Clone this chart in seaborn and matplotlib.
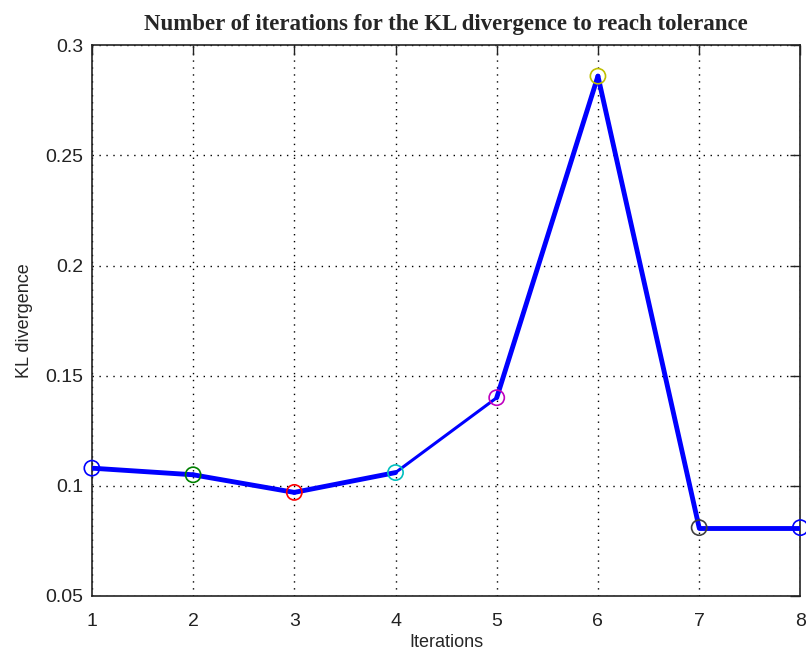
import matplotlib
matplotlib.use("Agg")
import matplotlib.pyplot as plt
import seaborn as sns
import pandas as pd
import numpy as np

iterations = [1, 2, 3, 4, 5, 6, 7, 8]
kl_divergence = [0.108, 0.105, 0.097, 0.106, 0.140, 0.286, 0.081, 0.081]
marker_colors = ["#0000ff", "#008000", "#ff0000", "#00bfbf", "#bf00bf", "#bfbf00", "#404040", "#0000ff"]
segment_widths = [3.5, 3.5, 3.5, 2.2, 3.5, 3.5, 3.5]

sns.set_style("white")
plt.rcParams["font.family"] = ["Liberation Sans Narrow", "Liberation Sans", "DejaVu Sans"]

df = pd.DataFrame({"Iterations": iterations, "KL divergence": kl_divergence})

fig = plt.figure(figsize=(8.06, 6.57), dpi=100)
ax = fig.add_axes([0.114, 0.093, 0.879, 0.838])

# line segments, each drawn between consecutive points
for i, w in enumerate(segment_widths):
    sns.lineplot(data=df.iloc[i:i + 2], x="Iterations", y="KL divergence",
                 color="#0000ff", linewidth=w, ax=ax, solid_capstyle="round",
                 zorder=3)

# hollow circle markers at each point
for i in range(len(iterations)):
    sns.scatterplot(x=[iterations[i]], y=[kl_divergence[i]], ax=ax,
                    marker="o", s=120, facecolors="none",
                    edgecolors=marker_colors[i], linewidths=1.2, zorder=4,
                    clip_on=False)

ax.set_xlim(1, 8)
ax.set_ylim(0.05, 0.3)
ax.set_xticks(iterations)
ax.set_xticklabels([str(v) for v in iterations])
yticks = [0.05, 0.1, 0.15, 0.2, 0.25, 0.3]
ax.set_yticks(yticks)
ax.set_yticklabels(["0.05", "0.1", "0.15", "0.2", "0.25", "0.3"])

ax.grid(True, color="black", linestyle=(0, (1, 4)), linewidth=1.0)
ax.tick_params(direction="in", length=7, width=1, top=True, right=True,
               labelsize=14, colors="#222222")
ax.tick_params(axis="x", pad=12)
ax.tick_params(axis="y", pad=6)
for sp in ax.spines.values():
    sp.set_visible(True)
    sp.set_color("#222222")
    sp.set_linewidth(1.2)

ax.set_xlabel("Iterations", fontsize=13, labelpad=3)
ax.set_ylabel("KL divergence", fontsize=13, labelpad=9)
ax.set_title("Number of iterations for the KL divergence to reach tolerance",
             family=["Liberation Serif", "DejaVu Serif"], fontweight="bold",
             fontsize=16.5, pad=11)

fig.savefig("out.png", dpi=100, facecolor="white")
